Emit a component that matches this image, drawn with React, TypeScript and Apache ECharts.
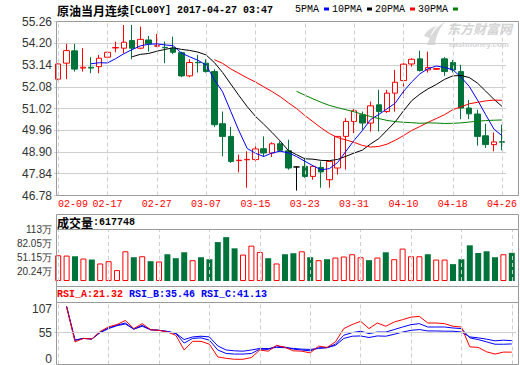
import React, { useEffect, useRef } from 'react';
import * as echarts from 'echarts';

const dates = ['02-09','02-10','02-13','02-14','02-15','02-16','02-17','02-20','02-21','02-22','02-23','02-24','02-27','02-28','03-01','03-02','03-03','03-06','03-07','03-08','03-09','03-10','03-13','03-14','03-15','03-16','03-17','03-20','03-21','03-22','03-23','03-24','03-27','03-28','03-29','03-30','03-31','04-03','04-04','04-05','04-06','04-07','04-10','04-11','04-12','04-13','04-14','04-17','04-18','04-19','04-20','04-21','04-24','04-25','04-26'];

const opens = [52.45,53.23,53.83,52.99,53.03,53.06,53.52,53.97,53.96,54.33,53.96,54.36,54.06,54.00,53.96,53.74,52.61,53.27,53.23,52.82,50.28,49.66,48.48,48.52,48.53,49.06,48.85,49.30,48.96,48.17,48.20,47.71,48.15,47.55,48.12,49.66,50.39,50.71,50.31,51.20,50.87,51.77,52.38,53.19,53.44,52.90,52.93,53.44,53.26,52.82,51.04,50.75,49.69,49.26,49.40];
const closes = [53.19,53.84,52.94,53.03,52.99,53.47,53.76,53.99,54.25,53.96,54.39,54.17,54.08,53.98,53.76,52.61,53.26,53.25,52.82,50.23,49.66,48.44,48.50,48.54,49.05,48.85,49.30,48.98,48.12,48.17,47.71,48.20,47.93,48.44,49.66,50.39,50.91,50.31,51.15,50.87,51.77,52.30,53.18,53.42,52.87,53.01,52.97,52.82,52.90,51.04,50.76,49.66,49.26,49.39,49.38];
const lows = [52.40,52.45,52.82,52.82,52.74,52.74,53.52,53.76,53.71,53.42,53.91,53.79,54.03,53.23,53.67,52.55,52.55,52.77,52.77,50.12,48.69,48.37,47.91,47.16,48.44,48.66,48.66,48.93,48.04,47.02,47.64,47.55,47.16,47.16,47.80,48.04,49.82,49.98,49.90,49.90,50.80,50.87,51.53,53.06,52.82,52.77,52.90,52.61,52.77,50.50,50.50,49.21,49.10,48.93,48.98];
const highs = [53.22,54.17,54.17,53.96,53.52,53.63,53.79,54.28,55.09,55.09,55.01,54.56,54.65,54.28,54.52,53.79,53.42,53.63,53.42,52.94,50.87,50.12,48.77,48.93,49.30,49.66,49.37,49.42,49.50,48.20,48.61,48.20,48.44,48.44,49.66,50.55,50.99,50.87,51.36,51.93,51.93,52.90,53.23,53.47,53.84,53.79,53.00,53.52,53.39,53.15,51.44,50.96,50.28,49.85,50.23];

// volume in 万 (10,000 lots)
const volumes = [56.5,55.8,54.3,49.3,47.1,38.5,43.5,23.9,65.2,52.2,54.3,43.5,42.8,58.7,50.0,63.0,45.7,52.2,47.8,85.4,96.3,71.7,58.0,77.6,63.7,50.0,38.5,58.7,60.9,65.2,52.2,45.7,47.8,51.5,53.7,58.7,52.2,45.7,51.5,63.0,47.8,71.1,54.3,54.3,58.7,47.1,47.1,37.0,47.8,78.3,61.5,65.2,52.2,58.7,61.7748];

const ma5 = [null,null,null,null,53.20,53.25,53.24,53.45,53.69,53.89,54.07,54.15,54.17,54.12,54.08,53.72,53.54,53.37,53.14,52.43,51.84,50.88,49.93,49.07,48.84,48.68,48.85,48.94,48.86,48.68,48.45,48.23,48.03,48.09,48.39,48.93,49.47,49.94,50.48,50.73,51.00,51.28,51.85,52.31,52.71,52.96,53.09,53.02,52.91,52.55,52.10,51.44,50.72,50.02,49.69];
const ma10 = [null,null,null,null,null,null,null,null,null,53.54,53.66,53.70,53.81,53.90,53.98,53.90,53.85,53.77,53.63,53.26,52.78,52.21,51.65,51.11,50.64,50.26,49.86,49.44,48.97,48.77,48.57,48.55,48.49,48.48,48.54,48.69,48.85,48.99,49.29,49.55,49.96,50.37,50.90,51.40,51.72,51.98,52.19,52.44,52.61,52.63,52.53,52.26,51.87,51.47,51.12];
const ma20 = [null,null,null,null,null,null,null,null,null,null,null,null,null,null,null,null,null,null,null,53.40,53.22,52.95,52.73,52.51,52.31,52.08,51.85,51.60,51.30,51.02,50.68,50.38,50.07,49.80,49.60,49.49,49.37,49.22,49.14,49.17,49.28,49.47,49.70,49.95,50.14,50.35,50.53,50.72,50.96,51.10,51.25,51.32,51.39,51.43,51.42];
const ma30 = [null,null,null,null,null,null,null,null,null,null,null,null,null,null,null,null,null,null,null,null,null,null,null,null,null,null,null,null,null,51.86,51.67,51.49,51.32,51.17,51.06,50.96,50.86,50.74,50.63,50.53,50.44,50.38,50.35,50.33,50.30,50.32,50.31,50.29,50.30,50.32,50.36,50.40,50.43,50.45,50.46];

const rsiA = [null,100,39,45,44,57,65,69,76,62,70.5,60,59,56,50.5,25,40,40,35,13,10.6,9,9,12,25,23,33,29.5,23.6,23,20,31.7,29.5,39,62,69,74.5,62,71.6,66,73.3,77.4,81.8,83,71.6,71.6,70.5,66,64.7,30.5,29.5,21.9,18,21.4,21.32];
const rsiB = [null,100,42,45,44,56,63,68,71.6,61,67.6,60,59,57,53.4,37,45,46,42,25,19,18,18,19,26.5,26,32,30,26.5,25,23.6,28.8,29,35,50.5,55,57.4,53.4,56,56,60.3,64.7,68.8,70.5,64.7,64.7,64.7,63,62,46,43,39,35,35,35.46];
const rsiC = [null,100,42,45,44,55,62,67,70,61,66,60,59,57,54,43,47.6,48.8,47.6,32,25,23.6,23,25,27.7,27.5,29.5,29,27.7,26.5,26,27.7,29,33,45,48.8,49.3,46.6,49.3,48.8,52.2,56,59,60.3,57.9,57.9,57.5,57.5,56,47.6,46,43.7,40.8,42,41.13];

const priceMin = 46.78;
const priceMax = 55.26;
const priceStep = 1.06;
const volumeMax = 113;
const volumeTicks = [0, 20.24, 51.15, 82.05, 113];
const rsiMax = 107;
const rsiTicks = [0, 55, 107];
const rsiMid = 55;
const labelEvery = 6;

const titleName = '原油当月连续';
const titleCode = '[CL00Y] 2017-04-27 03:47';

const RED = '#ff0000';
const GREEN = '#00733a';
const GRID = '#cfcfcf';
const FRAME = '#9a9a9a';
const MONO = 'Liberation Mono';
const CJK = 'Noto Sans CJK SC';
const SANS = 'Liberation Sans';

const logoPath = 'M3 24 C6 14 12 6 21 1 C15 8 12 15 11 24 Z M0 15 C3 9 8 6 13 5 C9 9 7 12 6 17 Z';

export default function App() {
  const ref = useRef<HTMLDivElement>(null);
  useEffect(() => {
    if (!ref.current) return;
    try {
      echarts.graphic.registerShape('logo', echarts.graphic.extendPath(logoPath, {}));
    } catch (e) { /* already registered */ }
    const chart = echarts.init(ref.current, null, { renderer: 'svg' });

    const kData = opens.map((o, i) => {
      const v = [o, closes[i], lows[i], highs[i]];
      if (o === closes[i]) {
        return { value: v, itemStyle: { color: '#000', color0: '#000', borderColor: '#000', borderColor0: '#000' } };
      }
      return v;
    });
    const volData = volumes.map((v, i) => ({
      value: v,
      itemStyle: closes[i] >= opens[i]
        ? { color: '#ffffff', borderColor: RED, borderWidth: 1 }
        : { color: GREEN, borderColor: GREEN, borderWidth: 0 },
    }));
    const empty = dates.map(() => null);
    const vLines = dates.filter((_, i) => i % labelEvery === 0).map((d) => ({ xAxis: d }));
    const markBase = {
      silent: true,
      symbol: ['none', 'none'],
      label: { show: false },
      emphasis: { disabled: true },
      lineStyle: { color: GRID, type: [4, 3], width: 1 },
    };
    const line = (name: string, data: any[], color: string, xi: number, yi: number, z = 3) => ({
      name, type: 'line', data, xAxisIndex: xi, yAxisIndex: yi, color,
      symbol: 'none', showSymbol: false, z,
      lineStyle: { color, width: 1 }, itemStyle: { color },
      emphasis: { disabled: true }, connectNulls: false,
    });
    const catAxis = (gi: number, show: boolean) => ({
      type: 'category', gridIndex: gi, data: dates, boundaryGap: true,
      axisLine: { show: false }, axisTick: { show: false }, splitLine: { show: false },
      axisLabel: show ? {
        show: true, interval: (i: number) => i % labelEvery === 0, color: RED,
        fontFamily: MONO, fontSize: 10, margin: 4, alignMinLabel: 'left',
      } : { show: false },
    });
    const frame = (y: number, h: number) => ({
      type: 'rect', silent: true, z: 50,
      shape: { x: 56.5, y, width: 462, height: h },
      style: { fill: 'none', stroke: FRAME, lineWidth: 1 },
    });
    const last = closes.length - 1;

    const option: any = {
      animation: false,
      backgroundColor: '#ffffff',
      title: [
        {
          left: 57, top: 3, padding: 0,
          text: `{a|${titleName}}{b|${titleCode}}`,
          textStyle: { rich: {
            a: { fontFamily: CJK, fontSize: 12, color: '#000', lineHeight: 14 },
            b: { fontFamily: MONO, fontSize: 10, color: '#000', lineHeight: 14 },
          } },
        },
        {
          left: 57, top: 215.5, padding: 0,
          text: `{a|成交量}{b|:${Math.round(volumes[last] * 10000)}}`,
          textStyle: { rich: {
            a: { fontFamily: CJK, fontSize: 12, color: '#000', lineHeight: 13 },
            b: { fontFamily: MONO, fontSize: 10, color: '#000', lineHeight: 13 },
          } },
        },
        {
          left: 57, top: 288, padding: 0,
          text: `{r|RSI_A:${rsiA[last]!.toFixed(2)} }{b|RSI_B:${rsiB[last]!.toFixed(2)} RSI_C:${rsiC[last]!.toFixed(2)}}`,
          textStyle: { rich: {
            r: { fontFamily: MONO, fontSize: 10, color: RED, lineHeight: 13 },
            b: { fontFamily: MONO, fontSize: 10, color: '#0000ff', lineHeight: 13 },
          } },
        },
      ],
      legend: {
        data: ['5PMA', '10PMA', '20PMA', '30PMA'],
        left: 295, top: 4, padding: 0,
        itemWidth: 5, itemHeight: 3, itemGap: 3, align: 'right', icon: 'rect',
        selectedMode: false,
        textStyle: { fontFamily: MONO, fontSize: 10, color: '#000', padding: 0 },
      },
      grid: [
        { left: 54, width: 462, top: 21.5, height: 174 },
        { left: 54, width: 462, top: 229.5, height: 51.5 },
        { left: 54, width: 462, top: 302.5, height: 62 },
      ],
      xAxis: [catAxis(0, true), catAxis(1, false), catAxis(2, false)],
      yAxis: [
        {
          type: 'value', gridIndex: 0, min: priceMin, max: priceMax, interval: priceStep,
          axisLine: { show: false }, axisTick: { show: false },
          axisLabel: { formatter: (v: number) => v.toFixed(2), color: '#333', fontFamily: SANS, fontSize: 12, margin: 2 },
          splitLine: { show: true, lineStyle: { color: GRID, width: 1 } },
        },
        {
          type: 'value', gridIndex: 1, min: 0, max: volumeMax,
          axisLine: { show: false }, axisTick: { show: false }, splitLine: { show: false },
          axisLabel: {
            customValues: volumeTicks,
            formatter: (v: number) => (v === 0 ? '0' : `${v}万`),
            color: '#333', fontFamily: SANS, fontSize: 10, margin: 2,
          },
        },
        {
          type: 'value', gridIndex: 2, min: 0, max: rsiMax,
          axisLine: { show: false }, axisTick: { show: false }, splitLine: { show: false },
          axisLabel: {
            customValues: rsiTicks,
            verticalAlignMaxLabel: 'top', verticalAlignMinLabel: 'bottom',
            color: '#333', fontFamily: SANS, fontSize: 12, margin: 2,
          },
        },
      ],
      series: [
        { type: 'line', data: empty, xAxisIndex: 0, yAxisIndex: 0, z: 1, symbol: 'none', silent: true,
          markLine: { ...markBase, data: vLines } },
        {
          name: 'K', type: 'candlestick', data: kData, xAxisIndex: 0, yAxisIndex: 0, z: 2,
          barWidth: 6,
          itemStyle: { color: '#ffffff', color0: GREEN, borderColor: RED, borderColor0: GREEN, borderColorDoji: '#000', borderWidth: 1 },
          emphasis: { disabled: true },
        },
        line('5PMA', ma5, '#0000ff', 0, 0),
        line('10PMA', ma10, '#000000', 0, 0),
        line('20PMA', ma20, RED, 0, 0),
        line('30PMA', ma30, '#008000', 0, 0),
        { type: 'line', data: empty, xAxisIndex: 1, yAxisIndex: 1, z: 1, symbol: 'none', silent: true,
          markLine: { ...markBase, data: vLines } },
        { name: 'VOL', type: 'bar', data: volData, xAxisIndex: 1, yAxisIndex: 1, barWidth: 6, z: 2,
          emphasis: { disabled: true } },
        { type: 'line', data: empty, xAxisIndex: 2, yAxisIndex: 2, z: 1, symbol: 'none', silent: true,
          markLine: { ...markBase, data: [...vLines, { yAxis: rsiMid, lineStyle: { type: 'solid', color: GRID } }] } },
        line('RSI_C', rsiC, '#0000ff', 2, 2),
        line('RSI_B', rsiB, '#0000ff', 2, 2),
        line('RSI_A', rsiA, RED, 2, 2, 4),
      ],
      graphic: [
        { type: 'logo', x: 424, y: 21, silent: true, z: 0, style: { fill: '#d9d9d9' } },
        { type: 'text', x: 447, y: 22, silent: true, z: 0,
          style: { text: '东方财富网', fontFamily: CJK, fontSize: 13, fontWeight: 'bold', fontStyle: 'italic', fill: '#d4d4d4' } },
        { type: 'text', x: 449, y: 40, silent: true, z: 0,
          style: { text: 'eastmoney.com', fontFamily: SANS, fontSize: 8, fontWeight: 'bold', fill: '#d4d4d4' } },
        frame(21.5, 174),
        frame(214.5, 15),
        frame(229.5, 57),
        frame(286.5, 16),
        frame(302.5, 62),
      ],
    };
    chart.setOption(option);
    return () => chart.dispose();
  }, []);
  return <div ref={ref} style={{ position: 'fixed', left: 0, top: 0, width: 520, height: 365 }} />;
}
